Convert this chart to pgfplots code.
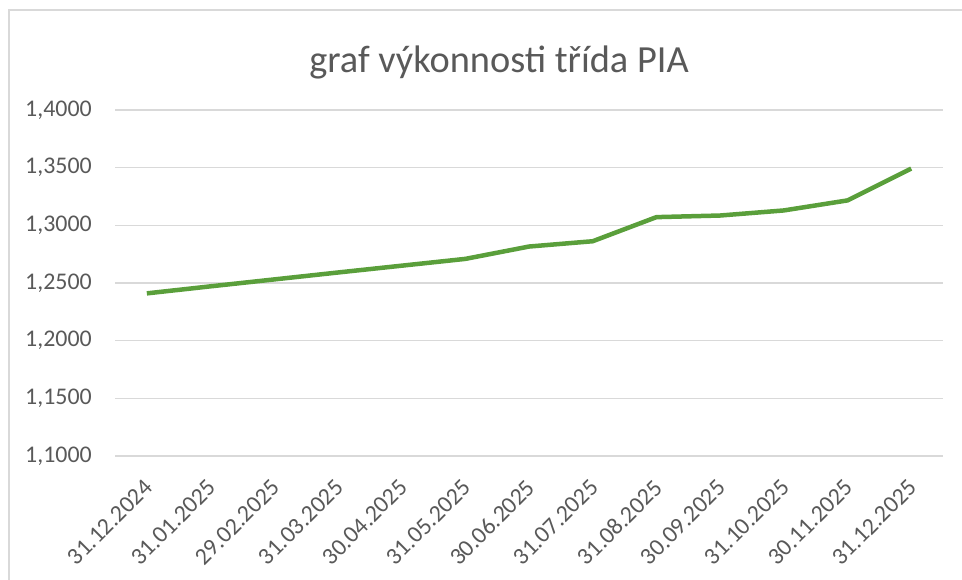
\documentclass[border=0pt]{standalone}
\usepackage{pgfplots}
\pgfplotsset{compat=1.18}
\usepackage{fontspec}
\setmainfont{Carlito}
\definecolor{txt}{HTML}{595959}
\definecolor{grid}{HTML}{D9D9D9}
\definecolor{ln}{HTML}{5A9F3B}
\begin{document}
\begin{tikzpicture}[x=1bp,y=1bp]
\path[use as bounding box] (0,0) rectangle (962,580);
\draw[grid, line width=1.2bp] (9,0) -- (9,570) -- (962,570);
\node[anchor=base, text=txt, font=\fontsize{38.5}{41}\selectfont] at (499,507) {graf výkonnosti třída PIA};
\begin{axis}[
  at={(115bp,124bp)}, anchor=south west,
  scale only axis, width=828bp, height=346bp,
  xmin=-0.5, xmax=12.5, ymin=1.1, ymax=1.4,
  xtick={0,...,12},
  xticklabels={31.12.2024,31.01.2025,29.02.2025,31.03.2025,30.04.2025,31.05.2025,30.06.2025,31.07.2025,31.08.2025,30.09.2025,31.10.2025,30.11.2025,31.12.2025},
  ytick={1.1,1.15,...,1.41},
  axis line style={draw=none},
  tick style={draw=none},
  major tick length=0pt,
  xmajorgrids=false,
  ymajorgrids=true,
  y grid style={grid, line width=1.2bp},
  every tick label/.append style={text=txt, font=\fontsize{24}{26}\selectfont},
  /pgf/number format/assume math mode=true,
  yticklabel={\pgfmathprintnumber[fixed, fixed zerofill, precision=4, use comma]{\tick}},
  yticklabel style={anchor=east, inner sep=0pt, xshift=-23bp},
  xticklabel style={xshift=-4bp, yshift=-22bp, rotate=45, anchor=north east, inner sep=0pt},
  clip=false,
]
\addplot[ln, line width=4.5bp, line join=round] coordinates {
(0,1.2410) (1,1.2471) (2,1.2531) (3,1.2591) (4,1.2650) (5,1.2709) (6,1.2816) (7,1.2862) (8,1.3071) (9,1.3085) (10,1.3129) (11,1.3216) (12,1.3492)
};
\end{axis}
\end{tikzpicture}
\end{document}
